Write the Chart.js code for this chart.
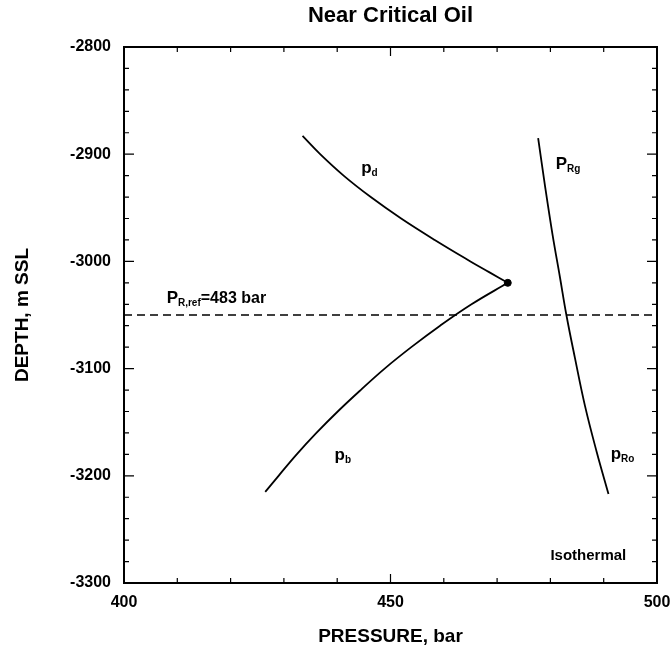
<!DOCTYPE html>
<html>
<head>
<meta charset="utf-8">
<script src="https://cdn.jsdelivr.net/npm/chart.js@4.4.1/dist/chart.umd.min.js"></script>
<style>
  html, body { margin: 0; padding: 0; background: #fff; }
  #wrap { width: 670px; height: 653px; }
</style>
</head>
<body>
<div id="wrap"><canvas id="myChart" width="670" height="653"></canvas></div>
<script>
// dew point curve (upper branch)
const pdPressure = [433.5, 436.8, 441.2, 446.3, 452.0, 458.3, 465.0, 468.5, 472];
const pdDepth = [-2883, -2900, -2920, -2940, -2960, -2980, -3000, -3010, -3020];

// bubble point curve (lower branch)
const pbPressure = [426.5, 429.0, 432.4, 436.1, 440.1, 444.4, 448.9, 453.9, 459.3, 465.2, 472];
const pbDepth = [-3215, -3200, -3180, -3160, -3140, -3120, -3100, -3080, -3060, -3040, -3020];

// reservoir pressure, gas on top, oil below
const prPressure = [477.7, 479.0, 480.4, 481.8, 483, 484.6, 486.5, 488.7, 490.9];
const prDepth = [-2885, -2930, -2975, -3015, -3050, -3090, -3135, -3178, -3217];

// critical point and reference depth
const critPressure = 472;
const critDepth = -3020;
const refPressureRange = [400, 500];
const refDepth = -3050;

const xTicks = [400, 450, 500];
const yTicks = [-2800, -2900, -3000, -3100, -3200, -3300];

function pts(xs, ys) {
    return xs.map(function (x, i) { return { x: x, y: ys[i] }; });
}

const FONT = "'Liberation Sans', Arial, Helvetica, sans-serif";

// inward tick marks on all four sides + frame
const frameTicks = {
    id: 'frameTicks',
    afterDraw: function (chart) {
        const c = chart.ctx, a = chart.chartArea;
        const sx = chart.scales.x, sy = chart.scales.y;
        c.save();
        c.strokeStyle = '#000';
        c.lineWidth = 1.2;
        for (let v = 400; v <= 500; v += 10) {
            const px = sx.getPixelForValue(v);
            const len = (v % 50 === 0) ? 9 : 5;
            c.beginPath();
            c.moveTo(px, a.bottom); c.lineTo(px, a.bottom - len);
            c.moveTo(px, a.top); c.lineTo(px, a.top + len);
            c.stroke();
        }
        for (let v = -2800; v >= -3300; v -= 20) {
            const py = sy.getPixelForValue(v);
            const len = (v % 100 === 0) ? 10 : 5;
            c.beginPath();
            c.moveTo(a.left, py); c.lineTo(a.left + len, py);
            c.moveTo(a.right, py); c.lineTo(a.right - len, py);
            c.stroke();
        }
        c.lineWidth = 2;
        c.strokeRect(a.left, a.top, a.right - a.left, a.bottom - a.top);
        c.restore();
    }
};

// curve labels with subscripts
function subLabel(c, x, y, main, sub, rest) {
    c.font = 'bold 17px ' + FONT;
    c.fillText(main, x, y);
    let w = c.measureText(main).width;
    c.font = 'bold 10px ' + FONT;
    c.fillText(sub, x + w, y + 3);
    w += c.measureText(sub).width;
    if (rest) {
        c.font = 'bold 16px ' + FONT;
        c.fillText(rest, x + w, y);
    }
}

const curveLabels = {
    id: 'curveLabels',
    afterDatasetsDraw: function (chart) {
        const c = chart.ctx;
        const sx = chart.scales.x, sy = chart.scales.y;
        c.save();
        c.fillStyle = '#000';
        c.textBaseline = 'alphabetic';
        c.textAlign = 'left';
        subLabel(c, sx.getPixelForValue(444.5), sy.getPixelForValue(-2918), 'p', 'd');
        subLabel(c, sx.getPixelForValue(439.5), sy.getPixelForValue(-3185), 'p', 'b');
        subLabel(c, sx.getPixelForValue(481), sy.getPixelForValue(-2914), 'P', 'Rg');
        subLabel(c, sx.getPixelForValue(491.3), sy.getPixelForValue(-3184), 'p', 'Ro');
        subLabel(c, sx.getPixelForValue(408), sy.getPixelForValue(-3039), 'P', 'R,ref', '=483 bar');
        c.font = 'bold 15px ' + FONT;
        c.fillText('Isothermal', sx.getPixelForValue(480), sy.getPixelForValue(-3279));
        c.restore();
    }
};

function lineSet(label, xs, ys) {
    return {
        label: label,
        data: pts(xs, ys),
        showLine: true,
        borderColor: '#000',
        borderWidth: 1.8,
        pointRadius: 0,
        tension: 0.4
    };
}

var ctx = document.getElementById('myChart');
var myChart = new Chart(ctx, {
    type: 'scatter',
    data: {
        datasets: [
            lineSet('pd', pdPressure, pdDepth),
            lineSet('pb', pbPressure, pbDepth),
            lineSet('PR', prPressure, prDepth),
            {
                label: 'PR,ref',
                data: pts(refPressureRange, [refDepth, refDepth]),
                showLine: true,
                borderColor: '#000',
                borderWidth: 1.3,
                borderDash: [8, 5],
                pointRadius: 0
            },
            {
                label: 'critical',
                data: [{ x: critPressure, y: critDepth }],
                pointRadius: 3.5,
                pointBackgroundColor: '#000',
                pointBorderColor: '#000'
            }
        ]
    },
    options: {
        responsive: false,
        animation: false,
        layout: { padding: 0 },
        plugins: {
            legend: { display: false },
            tooltip: { enabled: false },
            title: {
                display: true,
                fullSize: false,
                text: 'Near Critical Oil',
                color: '#000',
                font: { family: FONT, size: 22, weight: 'bold' },
                padding: { top: 3, bottom: 17.6 }
            }
        },
        scales: {
            x: {
                type: 'linear',
                min: 400,
                max: 500,
                afterBuildTicks: function (s) { s.ticks = xTicks.map(function (v) { return { value: v }; }); },
                afterFit: function (s) { s.height = 70; s.paddingLeft = 0; s.paddingRight = 13; },
                grid: { display: false, drawTicks: false },
                border: { display: false },
                ticks: {
                    color: '#000',
                    padding: 10,
                    font: { family: FONT, size: 16, weight: 'bold' },
                    callback: function (v) { return String(v); }
                },
                title: {
                    display: true,
                    text: 'PRESSURE, bar',
                    color: '#000',
                    font: { family: FONT, size: 19, weight: 'bold' },
                    padding: { top: 0, bottom: 4.6 }
                }
            },
            y: {
                type: 'linear',
                min: -3300,
                max: -2800,
                afterBuildTicks: function (s) { s.ticks = yTicks.map(function (v) { return { value: v }; }); },
                afterFit: function (s) { s.width = 124; },
                grid: { display: false, drawTicks: false },
                border: { display: false },
                ticks: {
                    color: '#000',
                    padding: 13,
                    font: { family: FONT, size: 16, weight: 'bold' },
                    callback: function (v) { return String(v); }
                },
                title: {
                    display: true,
                    text: 'DEPTH, m SSL',
                    color: '#000',
                    font: { family: FONT, size: 19, weight: 'bold' },
                    padding: { top: 11, bottom: 11 }
                }
            }
        }
    },
    plugins: [frameTicks, curveLabels]
});
</script>
</body>
</html>
